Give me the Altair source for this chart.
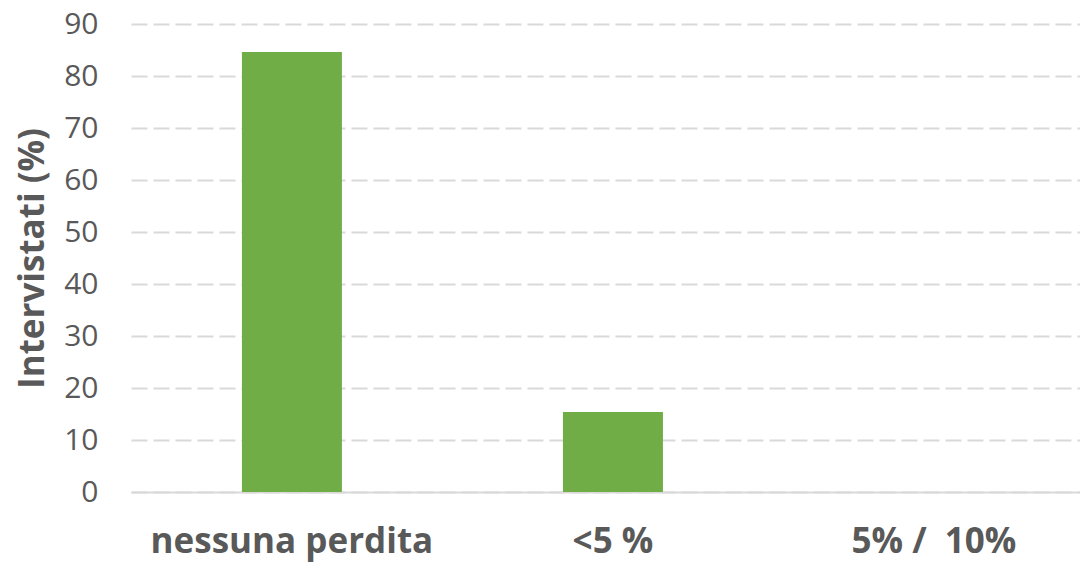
import altair as alt
import pandas as pd

categories = ["nessuna perdita", "<5 %", "5% /\u00a0 10%"]
values = [84.6, 15.4, 0.0]
y_ticks = [0, 10, 20, 30, 40, 50, 60, 70, 80, 90]

df = pd.DataFrame({"cat": categories, "val": values})

FONT = "Open Sans"
TXT = "#595959"

chart = alt.Chart(df).mark_bar(color="#70AD47").encode(
    x=alt.X(
        "cat:N",
        sort=categories,
        title=None,
        scale=alt.Scale(paddingInner=0.6885, paddingOuter=0.3223, align=0.536),
        axis=alt.Axis(
            labelAngle=0,
            labelFont=FONT,
            labelFontSize=35,
            labelFontWeight="bold",
            labelColor=TXT,
            labelPadding=32,
            labelLimit=600,
            labelOverlap=False,
            ticks=False,
            domainColor="#d9d9d9",
            domainWidth=2,
            grid=False,
        ),
    ),
    y=alt.Y(
        "val:Q",
        title="Intervistati (%)",
        scale=alt.Scale(domain=[0, 90], nice=False),
        axis=alt.Axis(
            values=y_ticks,
            labelFont=FONT,
            labelFontSize=30,
            labelColor=TXT,
            labelPadding=33,
            ticks=False,
            domain=False,
            grid=True,
            gridColor="#d9d9d9",
            gridWidth=2,
            gridDash=[16, 6],
            titleFont=FONT,
            titleFontSize=35,
            titleFontWeight="bold",
            titleColor=TXT,
            titleAngle=-90,
            titleBaseline="alphabetic",
            titleAlign="center",
            titleX=-88,
            titleY=234,
        ),
    ),
).properties(
    width=949,
    height=468,
    autosize=alt.AutoSizeParams(type="none"),
    padding={"left": 123, "top": 16, "right": 0, "bottom": 74},
).configure_view(stroke=None)

chart.save("out.html", embed_options={"renderer": "svg", "actions": False})
